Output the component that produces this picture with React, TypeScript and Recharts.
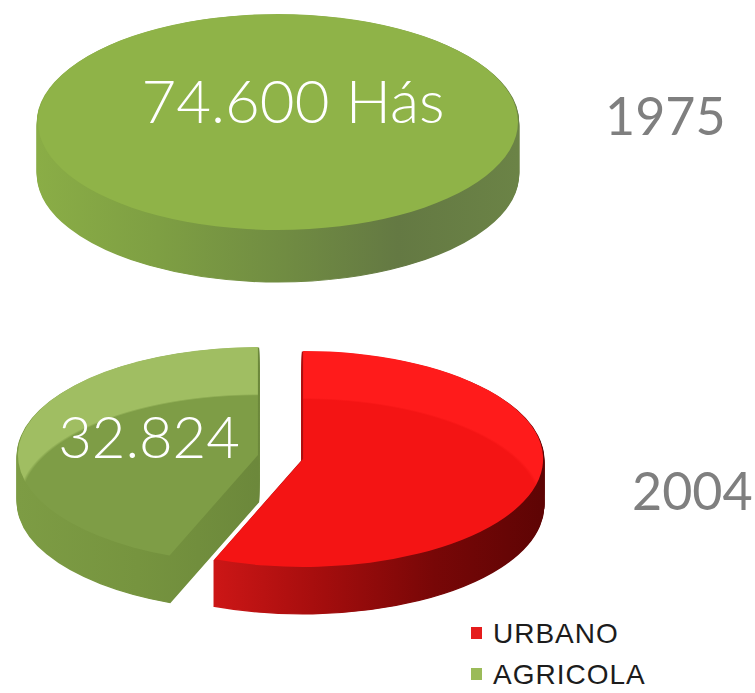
import { PieChart, Pie, Cell } from "recharts";

// hectares by land use
const YEARS = ["1975", "2004"];
const CATEGORIES = ["URBANO", "AGRICOLA"];
const CATEGORIES_1975 = ["AGRICOLA"];
const HECTARES_1975 = [74600];
const HECTARES_2004 = [41776, 32824];
const VALUE_LABELS = ["74.600 Hás", "32.824"];

const W = 755;
const H = 693;
const SY = 0.45; // vertical squash, fakes the 3D tilt
const R = 240;

const TOP = { cx: 278, cy: 122 / SY, depth: 52 / SY };
const BOT = { cx: 280.5, cy: 457 / SY, depth: 47 / SY, explode: 23 };

const TOP_STYLE = {
  face: "#8fb348",
  side: ["#8aad46", "#7e9f43", "#718d42", "#647943", "#6b8346"],
};

const SLICE_STYLE: Record<string, { face: string; inner: string; side: string[] }> = {
  URBANO: {
    face: "#ff1b1b",
    inner: "#f41414",
    side: ["#cc1616", "#a30d0d", "#780707", "#5e0404"],
  },
  AGRICOLA: {
    face: "#a0be62",
    inner: "#7e9d46",
    side: ["#7d9c44", "#76943f", "#6c883b"],
  },
};

const LEGEND_COLORS: Record<string, string> = {
  URBANO: "#e51c1c",
  AGRICOLA: "#9bbb59",
};

function offsets(depth: number) {
  // one copy per screen pixel, deepest first
  const n = Math.round(depth * SY);
  return Array.from({ length: n }, (_, i) => (depth * (n - i)) / n);
}

function layer(
  key: string,
  data: { name: string; value: number }[],
  cx: number,
  cy: number,
  fills: string[],
  strokeW = 0
) {
  return (
    <Pie
      key={key}
      data={data}
      dataKey="value"
      nameKey="name"
      cx={cx}
      cy={cy}
      innerRadius={0}
      outerRadius={R}
      startAngle={90}
      endAngle={-270}
      isAnimationActive={false}
      legendType="none"
      label={false}
      labelLine={false}
      stroke="none"
    >
      {fills.map((f, i) => (
        <Cell
          key={i}
          fill={f}
          stroke={strokeW && f !== "none" ? f : "none"}
          strokeWidth={strokeW}
        />
      ))}
    </Pie>
  );
}

function gradStops(colors: string[]) {
  return colors.map((c, i) => (
    <stop key={i} offset={`${(i / (colors.length - 1)) * 100}%`} stopColor={c} />
  ));
}

export default function App() {
  const data1975 = CATEGORIES_1975.map((name, i) => ({ name, value: HECTARES_1975[i] }));
  const data2004 = CATEGORIES.map((name, i) => ({ name, value: HECTARES_2004[i] }));

  const total = HECTARES_2004.reduce((a, b) => a + b, 0);
  let acc = 0;
  const slices = HECTARES_2004.map((v, k) => {
    const mid = 90 - (360 * (acc + v / 2)) / total;
    acc += v;
    const rad = (mid * Math.PI) / 180;
    return {
      name: CATEGORIES[k],
      cx: BOT.cx + BOT.explode * Math.cos(rad),
      cy: BOT.cy - BOT.explode * Math.sin(rad),
    };
  });

  const layers: JSX.Element[] = [];

  // 1975 disc
  offsets(TOP.depth).forEach((d, i) =>
    layers.push(layer(`top-side-${i}`, data1975, TOP.cx, TOP.cy + d, ["url(#side-top)"], 2.5))
  );
  layers.push(layer("top-face", data1975, TOP.cx, TOP.cy, [TOP_STYLE.face]));

  // 2004 exploded pie: back slice (agricola) first, then urbano in front
  [1, 0].forEach((k) => {
    const s = slices[k];
    const only = (f: string) => CATEGORIES.map((_, j) => (j === k ? f : "none"));
    offsets(BOT.depth).forEach((d, i) =>
      layers.push(layer(`s${k}-side-${i}`, data2004, s.cx, s.cy + d, only(`url(#side-${k})`), 2.5))
    );
    layers.push(layer(`s${k}-face`, data2004, s.cx, s.cy, only(`url(#band-${k})`)));
  });

  return (
    <div
      style={{
        position: "absolute",
        left: 0,
        top: 0,
        width: W,
        height: H,
        overflow: "hidden",
        background: "#ffffff",
      }}
    >
      <div
        style={{
          position: "absolute",
          left: 0,
          top: 0,
          width: W,
          height: H / SY,
          transform: `scaleY(${SY})`,
          transformOrigin: "0 0",
        }}
      >
        <PieChart width={W} height={H / SY} margin={{ top: 0, right: 0, bottom: 0, left: 0 }}>
          <defs>
            <linearGradient id="side-top" x1="0" y1="0" x2="1" y2="0">
              {gradStops(TOP_STYLE.side)}
            </linearGradient>
            {slices.map((s, k) => (
              <linearGradient key={`sg${k}`} id={`side-${k}`} x1="0" y1="0" x2="1" y2="0">
                {gradStops(SLICE_STYLE[s.name].side)}
              </linearGradient>
            ))}
            {slices.map((s, k) => (
              <radialGradient
                key={`bg${k}`}
                id={`band-${k}`}
                gradientUnits="userSpaceOnUse"
                cx={s.cx}
                cy={s.cy + BOT.depth}
                r={R}
              >
                <stop offset="0%" stopColor={SLICE_STYLE[s.name].inner} />
                <stop offset="98.5%" stopColor={SLICE_STYLE[s.name].inner} />
                <stop offset="100%" stopColor={SLICE_STYLE[s.name].face} />
              </radialGradient>
            ))}
          </defs>
          {layers}
        </PieChart>
      </div>

      <svg
        width={W}
        height={H}
        style={{ position: "absolute", left: 0, top: 0, pointerEvents: "none" }}
      >
        <text
          x={293}
          y={123}
          textAnchor="middle"
          fontFamily="Lato, sans-serif"
          fontWeight={300}
          fontSize={60}
          fill="#ffffff"
        >
          {VALUE_LABELS[0]}
        </text>
        <text
          x={149}
          y={458}
          textAnchor="middle"
          fontFamily="Lato, sans-serif"
          fontWeight={300}
          fontSize={58}
          fill="#ffffff"
        >
          {VALUE_LABELS[1]}
        </text>
        <text x={605} y={135} fontFamily="Lato, sans-serif" fontSize={52} fill="#7f7f7f">
          {YEARS[0]}
        </text>
        <text x={632} y={510} fontFamily="Lato, sans-serif" fontSize={52} fill="#7f7f7f">
          {YEARS[1]}
        </text>
        {CATEGORIES.map((c, i) => (
          <g key={c}>
            <rect x={471} y={627 + i * 41} width={11} height={12} fill={LEGEND_COLORS[c]} />
            <text
              x={493}
              y={643 + i * 41}
              fontFamily="Liberation Sans, Arial, sans-serif"
              fontSize={28}
              letterSpacing={1}
              fill="#1c1c1c"
            >
              {c}
            </text>
          </g>
        ))}
      </svg>
    </div>
  );
}
